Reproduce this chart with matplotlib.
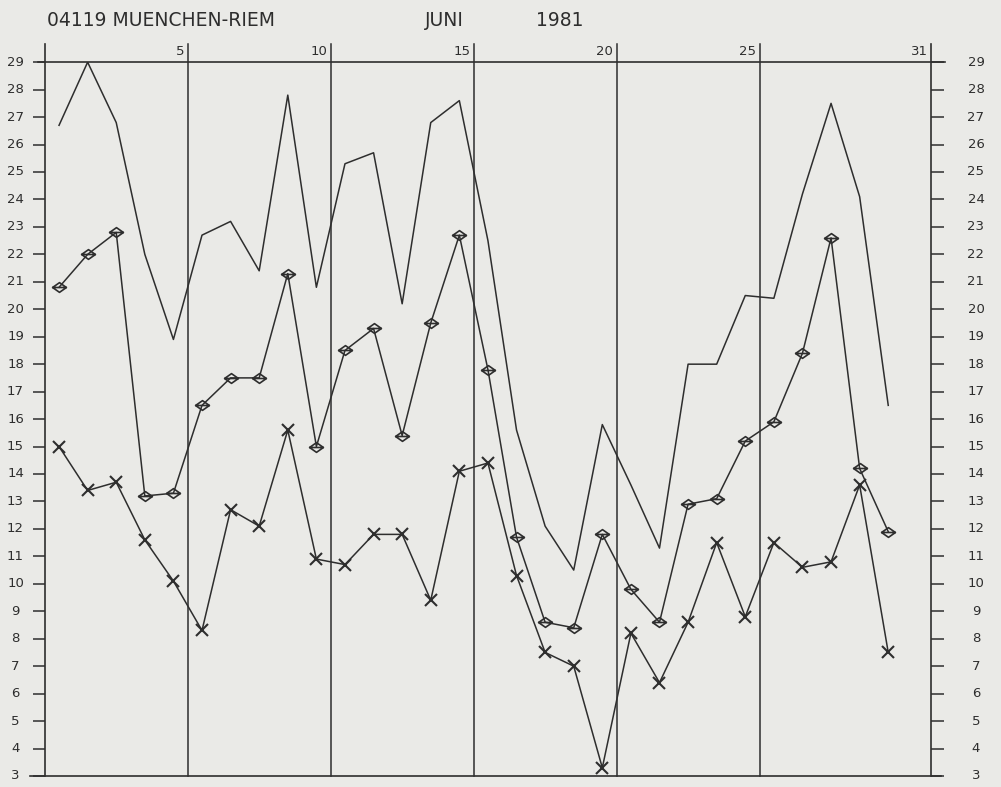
import matplotlib
matplotlib.use("Agg")
import matplotlib.pyplot as plt
from matplotlib.path import Path
import matplotlib.transforms as mtrans
import numpy as np

days = list(range(1, 31))
t_max = [26.7, 29.0, 26.8, 22.0, 18.9, 22.7, 23.2, 21.4, 27.8, 20.8,
         25.3, 25.7, 20.2, 26.8, 27.6, 22.5, 15.6, 12.1, 10.5, 15.8,
         13.6, 11.3, 18.0, 18.0, 20.5, 20.4, 24.2, 27.5, 24.1, 16.5]
t_mean = [20.8, 22.0, 22.8, 13.2, 13.3, 16.5, 17.5, 17.5, 21.3, 15.0,
          18.5, 19.3, 15.4, 19.5, 22.7, 17.8, 11.7, 8.6, 8.4, 11.8,
          9.8, 8.6, 12.9, 13.1, 15.2, 15.9, 18.4, 22.6, 14.2, 11.9]
t_min = [15.0, 13.4, 13.7, 11.6, 10.1, 8.3, 12.7, 12.1, 15.6, 10.9,
         10.7, 11.8, 11.8, 9.4, 14.1, 14.4, 10.3, 7.5, 7.0, 3.3,
         8.2, 6.4, 8.6, 11.5, 8.8, 11.5, 10.6, 10.8, 13.6, 7.5]
y_ticks = list(range(3, 30))
day_marks = [5, 10, 15, 20, 25]
last_day = 31
title_station = "04119 MUENCHEN-RIEM"
title_month = "JUNI"
title_year = "1981"

paper = "#eaeae7"
ink = "#2e2e2e"

# flat diamond with a horizontal bar (plotter symbol)
diamond_bar = Path(
    [(-1, 0), (0, 0.7), (1, 0), (0, -0.7), (-1, 0), (-1, 0), (1, 0)],
    [Path.MOVETO, Path.LINETO, Path.LINETO, Path.LINETO, Path.CLOSEPOLY,
     Path.MOVETO, Path.LINETO])

fig = plt.figure(figsize=(10.01, 7.87), dpi=100, facecolor=paper)
ax = fig.add_axes([0.0447, 0.014, 0.8855, 0.907])
ax.set_facecolor(paper)
ax.set_xlim(0, last_day)
ax.set_ylim(3, 29)

x = np.array(days) - 0.5
lw = 1.1
ax.plot(x, t_max, color=ink, lw=lw)
ax.plot(x, t_mean, color=ink, lw=lw, marker=diamond_bar, ms=10, mfc='none', mec=ink, mew=1.2)
ax.plot(x, t_min, color=ink, lw=lw, marker='x', ms=8, mec=ink, mew=1.5)

# frame
for s in ['top', 'bottom', 'left', 'right']:
    ax.spines[s].set_visible(False)
top_ext = 29.65
ax.plot([0, 0], [3, top_ext], color=ink, lw=1.2, clip_on=False)
ax.plot([last_day, last_day], [3, top_ext], color=ink, lw=1.2, clip_on=False)
ax.plot([-0.25, last_day + 0.5], [29, 29], color=ink, lw=1.2, clip_on=False)
ax.plot([-0.5, last_day + 0.35], [3, 3], color=ink, lw=1.2, clip_on=False)
for d in day_marks:
    ax.plot([d, d], [3, top_ext], color=ink, lw=1.1, clip_on=False)
    ax.text(d - 0.12, 29.15, str(d), ha='right', va='bottom', fontsize=9.5, color=ink)
ax.text(last_day - 0.12, 29.15, str(last_day), ha='right', va='bottom', fontsize=9.5, color=ink)

ax.set_xticks([])
ax.set_yticks(y_ticks)
ax.tick_params(axis='y', which='both', left=True, right=True, labelleft=False, labelright=False,
               direction='out', length=9, width=1.1, color=ink)

# tick labels, centred in the margins as on the plotter sheet
blend = mtrans.blended_transform_factory(fig.transFigure, ax.transData)
for v in y_ticks:
    ax.text(0.0155, v, str(v), transform=blend, ha='center', va='center',
            fontsize=9.5, color=ink, clip_on=False)
    ax.text(0.975, v, str(v), transform=blend, ha='center', va='center',
            fontsize=9.5, color=ink, clip_on=False)

fig.text(0.047, 0.974, title_station, fontsize=13.5, color=ink, ha='left', va='center')
fig.text(0.425, 0.974, title_month, fontsize=13.5, color=ink, ha='left', va='center')
fig.text(0.535, 0.974, title_year, fontsize=13.5, color=ink, ha='left', va='center')

fig.savefig("out.png", dpi=100, facecolor=paper)
